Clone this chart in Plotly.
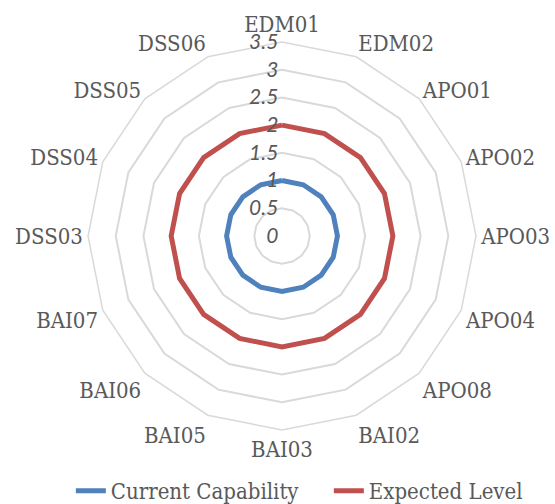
import plotly.graph_objects as go

categories = ["EDM01", "EDM02", "APO01", "APO02", "APO03", "APO04", "APO08", "BAI02",
              "BAI03", "BAI05", "BAI06", "BAI07", "DSS03", "DSS04", "DSS05", "DSS06"]
current_capability = [1, 1, 1, 1, 1, 1, 1, 1, 1, 1, 1, 1, 1, 1, 1, 1]
expected_level = [2, 2, 2, 2, 2, 2, 2, 2, 2, 2, 2, 2, 2, 2, 2, 2]
radial_ticks = [0, 0.5, 1, 1.5, 2, 2.5, 3, 3.5]

GRID = "#D9D9D9"
TEXT = "#595959"
SERIF = "DejaVu Serif Condensed, Liberation Serif, serif"


def closed(vals):
    return vals + vals[:1]


fig = go.Figure()
fig.add_trace(go.Scatterpolar(
    r=closed(current_capability), theta=closed(categories), mode="lines",
    name="Current Capability", line=dict(color="#4F81BD", width=5)))
fig.add_trace(go.Scatterpolar(
    r=closed(expected_level), theta=closed(categories), mode="lines",
    name="Expected Level", line=dict(color="#C0504D", width=5)))

fig.update_layout(
    width=555, height=504,
    margin=dict(l=0, r=0, t=0, b=0, autoexpand=False),
    paper_bgcolor="white",
    showlegend=True,
    legend=dict(orientation="h", x=0.5925, xanchor="center", y=0.026, yanchor="middle",
                font=dict(family=SERIF, size=22, color=TEXT),
                entrywidth=213, entrywidthmode="pixels", tracegroupgap=0),
    polar=dict(
        domain=dict(x=[0.1586, 0.8577], y=[0.1468, 0.9167]),
        bgcolor="white",
        gridshape="linear",
        angularaxis=dict(
            direction="clockwise", rotation=90,
            showgrid=False, showline=True, linecolor=GRID, linewidth=1.5, ticks="",
            tickfont=dict(family=SERIF, size=22, color=TEXT),
        ),
        radialaxis=dict(
            range=[0, 3.5], tickvals=radial_ticks,
            ticktext=[("%g" % v) for v in radial_ticks],
            angle=90, tickangle=90, side="counterclockwise",
            showline=False, ticks="",
            gridcolor=GRID, gridwidth=1.5,
            tickfont=dict(family="Lato", size=21, color=TEXT, style="italic"),
        ),
    ),
)

fig.write_html("out.html")
